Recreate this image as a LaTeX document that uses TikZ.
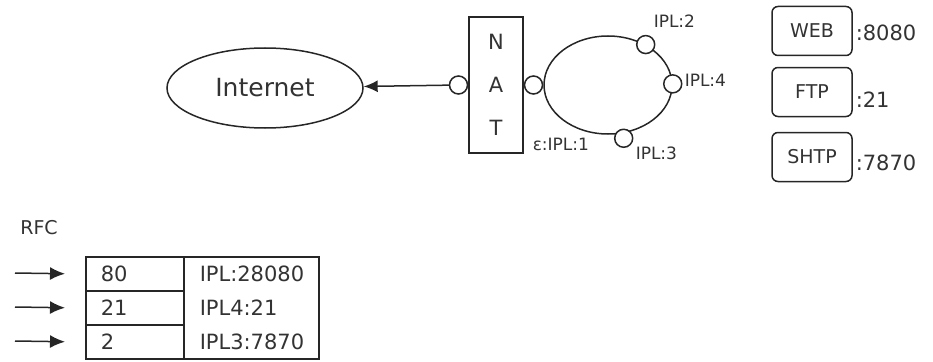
\documentclass[tikz,border=0pt]{standalone}
\usepackage{fontspec}
\setmainfont{DejaVu Sans}
\usetikzlibrary{arrows.meta,positioning,shapes.geometric}

\begin{document}
\begin{tikzpicture}[x=1pt, y=-1pt, line width=1.5pt, draw=black!85, text=black!80,
  port/.style={draw, circle, fill=white, minimum size=18pt, inner sep=0pt},
  svc/.style={draw, rounded corners=6pt, minimum width=80pt, minimum height=49pt, font=\fontsize{19}{22}\selectfont},
  lbl/.style={anchor=west, inner sep=1pt, font=\fontsize{17}{20}\selectfont},
  num/.style={anchor=west, inner sep=1pt, font=\fontsize{21}{24}\selectfont},
  cell/.style={draw, anchor=north west, minimum height=34pt, text width=68pt, inner xsep=15pt, inner ysep=0pt, align=left, font=\fontsize{21}{24}\selectfont},
  tip/.style={-{Latex[length=15pt,width=13pt]}}]
\useasboundingbox (0,0) rectangle (933,361);
\node[draw, ellipse, minimum width=196pt, minimum height=80pt, font=\fontsize{25}{28}\selectfont] (inet) at (265,88) {Internet};
\node[draw, minimum width=54pt, minimum height=136pt, align=center, font=\fontsize{21}{43}\selectfont] (nat) at (496,85) {N\\A\\T};
\node[port, anchor=east] (pin) at (nat.west) {};
\node[port, anchor=west] (pout) at (nat.east) {};
\node[draw, ellipse, minimum width=128pt, minimum height=98pt, inner sep=0pt, anchor=west] (ring) at (pout.east) {};
\node[port] (p2) at (ring.47) {};
\node[port] (p4) at (ring.1) {};
\node[port] (p3) at ([yshift=-5pt]ring.-72) {};
\draw[-{Latex[length=14pt,width=12pt]}] (pin) -- (inet);
\node[lbl] (l2) at (652,21) {IPL:2};
\node[lbl] (l4) at (683,80) {IPL:4};
\node[lbl] (l1) at (531,144) {ε:IPL:1};
\node[lbl] (l3) at (634,153) {IPL:3};
\node[svc] (web) at (812,31) {WEB};
\node[svc] (ftp) at (812,92) {FTP};
\node[svc] (shtp) at (812,157) {SHTP};
\node[num] (nweb) at (854,33) {:8080};
\node[num] (nftp) at (854,100) {:21};
\node[num] (nshtp) at (854,163) {:7870};
\node[font=\fontsize{19}{22}\selectfont] (rfc) at (39,228) {RFC};
\node[cell] (k80) at (85,256) {80};
\node[cell] (k21) at (85,290) {21};
\node[cell] (k2) at (85,324) {2};
\node[draw, anchor=north west, minimum height=102pt, text width=103pt, inner xsep=16pt, inner ysep=0pt, align=left, font=\fontsize{21}{34}\selectfont] (dst) at (183,256) {IPL:28080\\IPL4:21\\IPL3:7870};
\coordinate (s1) at (15,273);
\coordinate (s2) at (15,307);
\coordinate (s3) at (15,341);
\draw[tip] (s1) -- ([xshift=-20pt]k80.west);
\draw[tip] (s2) -- ([xshift=-20pt]k21.west);
\draw[tip] (s3) -- ([xshift=-20pt]k2.west);
\end{tikzpicture}
\end{document}
